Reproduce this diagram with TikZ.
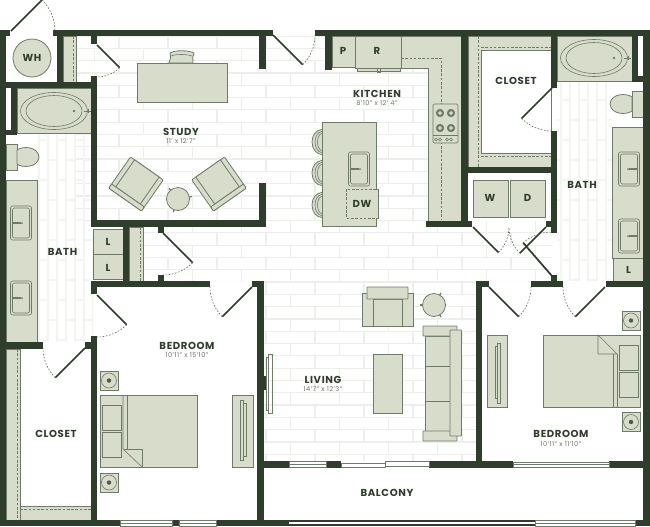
\documentclass[tikz,border=0pt]{standalone}
\usepackage{fontspec}
\setmainfont{Poppins}[LetterSpace=6]
\definecolor{wallcol}{HTML}{2F3D2C}
\definecolor{fixfill}{HTML}{D8DCCB}
\definecolor{fixline}{HTML}{6F7B69}
\definecolor{brickcol}{HTML}{EEEEEA}
\definecolor{tilecol}{HTML}{F4F4F1}
\definecolor{subcol}{HTML}{6E746A}
\tikzset{
    wall/.style={fill=wallcol, draw=none},
    fixture/.style={draw=fixline, fill=fixfill, line width=0.6pt},
    fixfine/.style={draw=fixline, line width=0.45pt},
    leaf/.style={draw=wallcol, line width=1.3pt},
    swing/.style={draw=wallcol!80, line width=0.45pt, dash pattern=on 1.2pt off 1.2pt},
    cutline/.style={draw=fixline, line width=0.5pt, dash pattern=on 2pt off 1.2pt},
    roomname/.style={font=\bfseries\fontsize{7.6}{8}\selectfont, text=wallcol, inner sep=0pt},
    roomsize/.style={font=\fontsize{5}{5}\selectfont, text=subcol, inner sep=0pt},
    glass/.style={draw=fixline, fill=white, line width=0.5pt},
}
\newcommand{\doorfig}[5]{
    \draw[leaf] (#1,#2) -- ++(#3:#5);
    \draw[swing] (#1,#2) ++(#3:#5) arc[start angle=#3, end angle=#4, radius=#5];
}
\newcommand{\tubfig}[2]{
    \begin{scope}[shift={(#1,#2)}]
        \draw[fixfine] (0,0) ellipse (33.5 and 18.5);
        \draw[fixfine] (0,0) ellipse (28 and 15.5);
        \fill[fixline] (20,0) circle (1.3);
        \draw[fixfine] (30,0) -- (37,0);
        \draw[fixfine] (34,-2) -- (34,2);
    \end{scope}
}
\newcommand{\toiletfig}[3]{
    \begin{scope}[shift={(#1,#2)}, xscale=#3]
        \draw[fixture] (-22,-13) rectangle (-11,13);
        \draw[fixture] (-11,-7) .. controls (-6,-11) and (10,-11) .. (11,0) .. controls (10,11) and (-6,11) .. (-11,7) -- cycle;
    \end{scope}
}
\newcommand{\sinkfig}[3]{
    \begin{scope}[shift={(#1,#2)}, xscale=#3]
        \draw[fixfine, rounded corners=1.5pt] (-10.5,-17) rectangle (10.5,17);
        \draw[fixfine, rounded corners=1.5pt] (-8.5,-15) rectangle (8.5,15);
        \draw[fixfine, line width=0.8pt] (0,0) -- (9,0);
        \fill[fixline] (-1,0) circle (1);
        \fill[fixline] (5,0) circle (1);
    \end{scope}
}
\newcommand{\standfig}[2]{
    \begin{scope}[shift={(#1,#2)}]
        \draw[fixture] (-9,-9.5) rectangle (9,9.5);
        \draw[fixfine] (0,0) circle (7.5);
        \fill[wallcol!85] (0,0) circle (2.2);
    \end{scope}
}
\newcommand{\armchairfig}[3]{
    \begin{scope}[shift={(#1,#2)}, rotate=#3]
        \draw[fixture, rounded corners=0.8pt] (-20,-19) rectangle (20,19);
        \draw[fixture] (-15,-19) rectangle (15,14);
        \draw[fixture, rounded corners=0.8pt] (-20,14) rectangle (20,19);
    \end{scope}
}
\newcommand{\sidetable}[3]{
    \foreach \a in {0,120,240} {
        \draw[fixfine, line width=0.9pt] (#1,#2) ++(\a+#3:14) -- +(\a+#3:-3);
    }
    \draw[fixture] (#1,#2) circle (11.5);
}
\newcommand{\stoolfig}[1]{
    \draw[fixture] (322,#1) ellipse (10 and 12.5);
    \draw[fixfine] (322,#1) ellipse (7 and 10.5);
    \draw[fixfine] (322,#1) ellipse (4.5 and 8.5);
}
\begin{document}
\begin{tikzpicture}[x=0.75pt, y=-0.75pt]
    \useasboundingbox (0,0) rectangle (650,526);
    \fill[white] (0,0) rectangle (650,526);

    \begin{scope}
        \clip (76,36) rectangle (461,221) (143,221) rectangle (476,281) (264,281) rectangle (476,461) (468,221) rectangle (552,281);
        \foreach \r in {0,...,35} {
            \pgfmathsetmacro{\rowy}{36+12.3*\r}
            \pgfmathsetmacro{\rowx}{mod(\r,2)*24.5}
            \draw[brickcol, line width=0.9pt] (70,\rowy) -- (560,\rowy);
            \foreach \k in {0,...,10} {
                \draw[brickcol, line width=0.9pt] (70+\rowx+49*\k,\rowy) -- ++(0,12.3);
            }
        }
    \end{scope}
    \begin{scope}
        \clip (37,133) rectangle (91,342) (91,233) rectangle (93,336) (557,82) rectangle (612,281);
        \foreach \c in {0,...,65} {
            \pgfmathsetmacro{\colx}{30+9*\c}
            \pgfmathsetmacro{\coly}{mod(\c,2)*20}
            \draw[tilecol, line width=0.9pt] (\colx,80) -- (\colx,345);
            \foreach \k in {0,...,6} {
                \draw[tilecol, line width=0.9pt] (\colx,80+\coly+40*\k) -- ++(9,0);
            }
        }
    \end{scope}

    \draw[fixture] (32,58) circle (19);
    \draw[fixture] (63,36) rectangle (76,82);
    \draw[cutline] (73,36) -- (73,82);
    \draw[fixture] (468,36) rectangle (551,167);
    \fill[white] (481,50.5) rectangle (551,153);
    \draw[fixfine] (551,50.5) -- (481,50.5) -- (481,153) -- (551,153);
    \draw[cutline] (478,36) -- (478,167);
    \draw[cutline] (481,47.5) -- (551,47.5);
    \draw[cutline] (481,156) -- (551,156);
    \draw[fixture] (129,227) rectangle (143,281);
    \draw[cutline] (140,227) -- (140,281);
    \draw[fixture] (6,349) rectangle (20,520);
    \draw[fixture] (20,506) rectangle (91,520);
    \draw[cutline] (17,349) -- (17,520);
    \draw[cutline] (20,509.5) -- (91,509.5);

    \draw[fixture] (357,67) rectangle (400,71);
    \draw[fixfine] (377,68) rectangle (380,72);
    \draw[fixture] (332,36) rectangle (355,67);
    \draw[fixture] (355,36) rectangle (401,68);
    \draw[fixture] (401,36) -- (461,36) -- (461,221) -- (428,221) -- (428,68) -- (401,68) -- cycle;
    \draw[cutline] (401,58) -- (441,58) -- (441,220);
    \draw[fixture, rounded corners=1pt] (433,104) rectangle (458,143);
    \draw[fixfine] (433,135) -- (458,135);
    \foreach \bx/\by in {440/113,451/113,440/128,451/128} {
        \draw[fixfine, fill=fixline] (\bx,\by) circle (3.8);
        \draw[fixfine, fill=fixfill] (\bx,\by) circle (2.2);
    }
    \foreach \kx in {436,440,447,451} {
        \draw[fixfine] (\kx,139.5) circle (1.5);
    }
    \stoolfig{142}
    \stoolfig{173}
    \stoolfig{205}
    \draw[fixture] (322,122) rectangle (376,226);
    \sinkfig{359}{169}{-1}
    \draw[fixture, draw=none] (346,189) rectangle (378,218);
    \draw[cutline] (376,189) -- (346,189) -- (346,218) -- (376,218);
    \draw[fixfine] (376,189) -- (378,189) -- (378,218) -- (376,218);

    \draw[fixture] (137,63) rectangle (227,102);
    \draw[fixture] (169,63) .. controls (170,58) and (172,56) .. (170,53) .. controls (175,50) and (188,50) .. (194,53) .. controls (192,56) and (193,58) .. (193,63) -- cycle;
    \draw[fixfine] (171,56) .. controls (176,54) and (187,54) .. (192,56);
    \armchairfig{136}{184}{-35}
    \armchairfig{219}{184}{35}
    \sidetable{178}{199}{-10}

    \draw[fixture] (17,88) rectangle (92,133);
    \tubfig{54}{111}
    \draw[fixture] (557,36) rectangle (632,81);
    \tubfig{594}{58}
    \toiletfig{28}{157}{1}
    \toiletfig{621}{104}{-1}
    \draw[fixture] (6,180) rectangle (37,342);
    \sinkfig{21}{223}{-1}
    \sinkfig{21}{298}{-1}
    \draw[fixture] (612,127) rectangle (643,258);
    \draw[fixture] (613,258) rectangle (643,281);
    \sinkfig{629}{169}{1}
    \sinkfig{629}{236}{1}

    \draw[fixture] (473,180) rectangle (508,217);
    \draw[fixture] (510,180) rectangle (545,217);
    \draw[fixture] (93,229) rectangle (123,254);
    \draw[fixture] (93,254) rectangle (123,279);

    \standfig{109}{380.5}
    \standfig{109}{482.5}
    \draw[fixture] (100,395) rectangle (197,467);
    \draw[fixture] (102,405) rectangle (121,430);
    \draw[fixture] (102,432) rectangle (121,457);
    \draw[fixfine] (123,395) -- (123,449) -- (142,467);
    \draw[fixfine] (127,395) -- (127,449);
    \draw[fixfine] (124,449) -- (142,449) -- (142,467);
    \draw[fixture] (232,395) rectangle (253,467);
    \draw[fixture, fill=none] (240,400) rectangle (243,460);
    \draw[fixture, fill=none] (243,403) rectangle (246,456);

    \draw[fixture, fill=none] (268,354) rectangle (272,413);
    \draw[fixture, fill=none] (266,357) rectangle (268,410);

    \draw[fixture] (362,293) rectangle (373,326);
    \draw[fixture] (402,293) rectangle (413,326);
    \draw[fixture] (373,299) rectangle (402,326);
    \draw[fixture, rounded corners=0.5pt] (367,287) rectangle (408,299);
    \sidetable{434}{305}{60}
    \draw[fixture] (373,354) rectangle (402,413);
    \draw[fixture] (425,336) rectangle (451,366);
    \draw[fixture] (425,366) rectangle (451,401);
    \draw[fixture] (425,401) rectangle (451,431);
    \draw[fixture, rounded corners=0.5pt] (423,326) rectangle (457,336);
    \draw[fixture, rounded corners=0.5pt] (423,431) rectangle (457,441);
    \draw[fixture, rounded corners=0.5pt] (450,330) rectangle (461.5,436);

    \standfig{631}{320.5}
    \standfig{631}{422}
    \draw[fixture] (543,335) rectangle (640,407);
    \draw[fixture] (619,345) rectangle (638,370);
    \draw[fixture] (619,372) rectangle (638,397);
    \draw[fixfine] (613,354) -- (613,407);
    \draw[fixfine] (617,354) -- (617,407);
    \draw[fixfine] (598,335) -- (598,354) -- (617,354) -- cycle;
    \draw[fixture] (487,335) rectangle (507,407);
    \draw[fixture, fill=none] (497,343) rectangle (500,403);
    \draw[fixture, fill=none] (495,346) rectangle (497,398);

    \fill[wall] (0,30) rectangle (10,36);
    \fill[wall] (0,30) rectangle (6,526);
    \fill[wall] (53,30) rectangle (273,36);
    \fill[wall] (57,36) rectangle (63,88);
    \fill[wall] (0,82) rectangle (97,88);
    \fill[wall] (11,88) rectangle (17,135);
    \fill[wall] (2,130) rectangle (17,135);
    \fill[white] (7,89) rectangle (11,130);
    \fill[wall] (91,36) rectangle (97,44);
    \fill[wall] (91,76) rectangle (97,227);
    \fill[wall] (91,220) rectangle (266,227);
    \fill[wall] (259,36) rectangle (266,69);
    \fill[wall] (259,183) rectangle (266,227);
    \fill[wall] (123,227) rectangle (129,281);
    \fill[wall] (158,227) rectangle (164,233);
    \fill[wall] (158,275) rectangle (164,281);
    \fill[wall] (91,281) rectangle (210,287);
    \fill[wall] (91,281) rectangle (97,294);
    \fill[wall] (91,336) rectangle (97,526);
    \fill[wall] (252,281) rectangle (264,287);
    \fill[wall] (257,281) rectangle (264,526);
    \fill[wall] (264,376) rectangle (266,390);
    \fill[wall] (6,342) rectangle (43,349);
    \fill[wall] (85,342) rectangle (91,349);
    \fill[wall] (0,520) rectangle (120,526);
    \fill[wall] (172,520) rectangle (179,526);
    \fill[wall] (216,520) rectangle (535,526);
    \fill[wall] (264,461) rectangle (289,468);
    \fill[wall] (326,461) rectangle (341,468);
    \fill[wall] (429,461) rectangle (513,468);
    \fill[wall] (609,461) rectangle (650,468);
    \fill[wall] (315,30) rectangle (650,36);
    \fill[wall] (325,36) rectangle (332,70);
    \fill[wall] (461,36) rectangle (468,227);
    \fill[wall] (426,221) rectangle (472,227);
    \fill[wall] (468,167) rectangle (557,173);
    \fill[wall] (551,36) rectangle (557,88);
    \fill[wall] (551,131) rectangle (557,233);
    \fill[wall] (546,221) rectangle (557,227);
    \fill[wall] (632,36) rectangle (638,82);
    \fill[wall] (632,76) rectangle (650,82);
    \fill[wall] (643,30) rectangle (650,526);
    \fill[wall] (476,281) rectangle (482,461);
    \fill[wall] (476,281) rectangle (489,287);
    \fill[wall] (531,281) rectangle (563,287);
    \fill[wall] (551,275) rectangle (557,281);
    \fill[wall] (606,281) rectangle (643,287);
    \fill[wall] (635,520) rectangle (650,526);

    \draw[glass] (289,461.5) rectangle (326,467.5);
    \draw[fixfine] (289,464.5) -- (326,464.5);
    \draw[glass] (341,463) rectangle (385,467.5);
    \draw[glass] (385,461.5) rectangle (429,466);
    \draw[glass] (513,462) rectangle (609,467.5);
    \draw[fixfine] (513,464.7) -- (609,464.7);
    \draw[glass] (120,520) rectangle (172,526);
    \draw[fixfine] (120,523) -- (172,523);
    \draw[glass] (179,520) rectangle (216,526);
    \draw[fixfine] (179,523) -- (216,523);
    \fill[white] (289,521.5) rectangle (535,523.5);
    \draw[glass] (535,520.5) rectangle (635,526);
    \draw[fixfine] (535,523) -- (635,523);

    \doorfig{11}{31}{-45}{0}{44}
    \doorfig{97}{45}{45}{90}{32}
    \doorfig{273}{35}{45}{0}{42}
    \doorfig{163}{233}{45}{90}{42}
    \doorfig{97}{295}{45}{90}{42}
    \doorfig{252}{287}{135}{180}{42}
    \doorfig{85}{348}{135}{180}{42}
    \doorfig{552}{88}{135}{90}{43}
    \doorfig{473}{227}{45}{0}{36}
    \doorfig{546}{227}{135}{180}{37}
    \doorfig{552}{276}{229}{270}{44}
    \doorfig{489}{287}{45}{0}{42}
    \doorfig{605}{287}{135}{180}{42}

    \node[roomname] (wh) at (32,58) {WH};
    \node[roomname] (study) at (181,131.5) {STUDY};
    \node[roomsize] (studysize) at (181,141.5) {11' x 12'7"};
    \node[roomname] (kitchen) at (377,94) {KITCHEN};
    \node[roomsize] (kitchensize) at (377,103.5) {8'10" x 12' 4"};
    \node[roomname] (pantry) at (343,51) {P};
    \node[roomname] (fridge) at (377,51) {R};
    \node[roomname] (closeteast) at (516,81) {CLOSET};
    \node[roomname] (batheast) at (582,184.5) {BATH};
    \node[roomname] (washer) at (490,197.5) {W};
    \node[roomname] (dryer) at (527.5,197.5) {D};
    \node[roomname] (dishwasher) at (362,204) {DW};
    \node[roomname] (bathwest) at (62.5,252) {BATH};
    \node[roomname] (lowerl) at (108,242) {L};
    \node[roomname] (upperl) at (108,267.5) {L};
    \node[roomname] (linen) at (628.5,269.5) {L};
    \node[roomname] (bedwest) at (187,346) {BEDROOM};
    \node[roomsize] (bedwestsize) at (187,355.5) {10'11" x 15'10"};
    \node[roomname] (closetwest) at (56,434) {CLOSET};
    \node[roomname] (living) at (323,380) {LIVING};
    \node[roomsize] (livingsize) at (323,389.5) {14'7" x 12'3"};
    \node[roomname] (bedeast) at (561,434) {BEDROOM};
    \node[roomsize] (bedeastsize) at (561,444) {10'11" x 11'10"};
    \node[roomname] (balcony) at (387,492.5) {BALCONY};
\end{tikzpicture}
\end{document}
